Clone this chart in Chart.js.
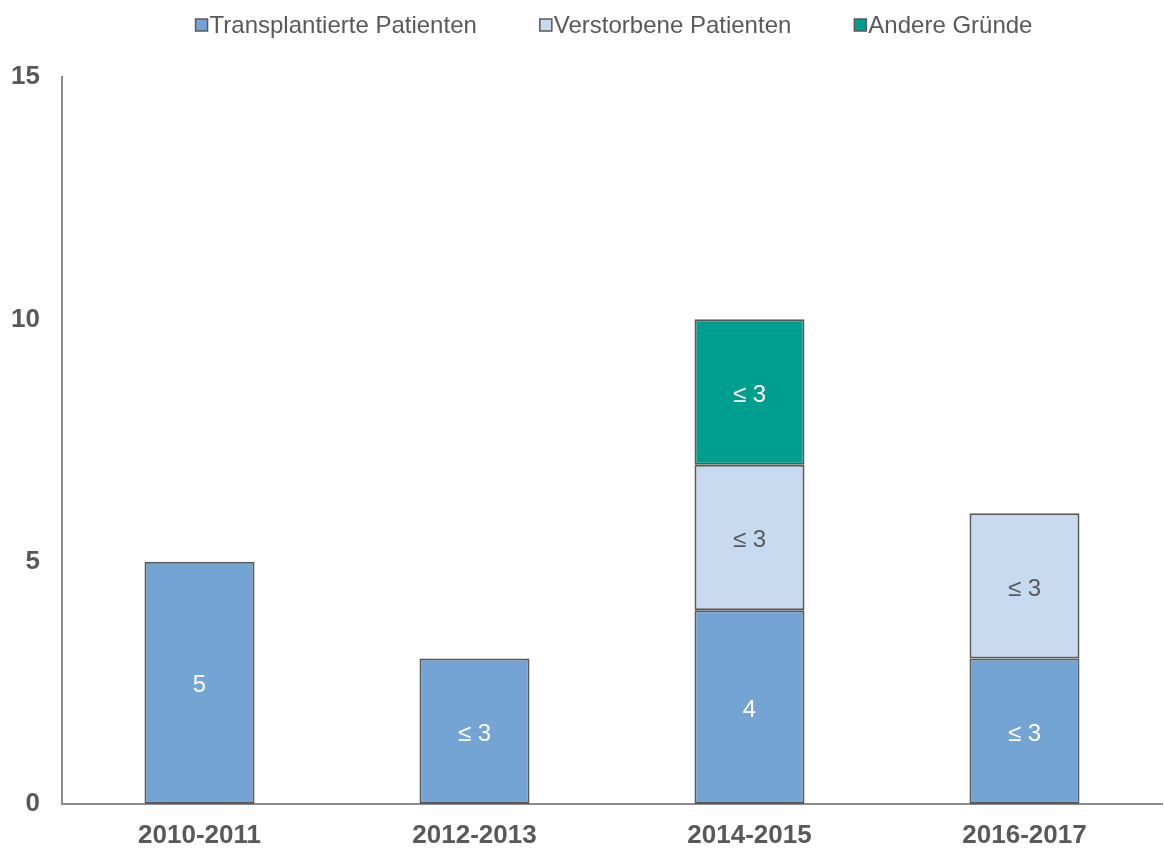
<!DOCTYPE html>
<html lang="de">
  <head>
    <meta charset="UTF-8" />
    <title>Patienten nach Zeitraum</title>
    <script src="https://cdn.jsdelivr.net/npm/chart.js"></script>
    <style>
      html, body { margin: 0; padding: 0; background: #fff; }
      #wrap { width: 1164px; height: 849px; }
    </style>
  </head>
  <body>
    <div id="wrap"><canvas id="patientsChart"></canvas></div>
    <script>
      const periods = ["2010-2011", "2012-2013", "2014-2015", "2016-2017"];
      const transplanted = [5, 3, 4, 3];
      const deceased = [0, 0, 3, 3];
      const otherReasons = [0, 0, 3, 0];
      const transplantedLabels = ["5", "≤ 3", "4", "≤ 3"];
      const deceasedLabels = ["", "", "≤ 3", "≤ 3"];
      const otherLabels = ["", "", "≤ 3", ""];
      const yTicks = [0, 5, 10, 15];

      const textGrey = "#595959";
      const fontFamily = "'Liberation Sans', Arial, sans-serif";

      // draws the value text in the middle of each bar segment
      const segmentLabels = {
        id: "segmentLabels",
        afterDatasetsDraw(chart) {
          const ctx = chart.ctx;
          ctx.save();
          ctx.font = "24px " + fontFamily;
          ctx.textAlign = "center";
          ctx.textBaseline = "middle";
          chart.data.datasets.forEach((ds, i) => {
            const meta = chart.getDatasetMeta(i);
            meta.data.forEach((bar, j) => {
              const txt = ds.segmentText[j];
              if (!txt) return;
              ctx.fillStyle = ds.textColor;
              ctx.fillText(txt, bar.x, (bar.y + bar.base) / 2 + 3);
            });
          });
          ctx.restore();
        },
      };

      // compact legend row at the top, centred over the plot area
      const topLegend = {
        id: "topLegend",
        afterDraw(chart) {
          const ctx = chart.ctx;
          const area = chart.chartArea;
          const box = 12, gapText = 2, gapItem = 63, y = 25;
          ctx.save();
          ctx.font = "24px " + fontFamily;
          ctx.textBaseline = "middle";
          const items = chart.data.datasets.map((ds) => ({
            ds,
            w: box + gapText + ctx.measureText(ds.label).width,
          }));
          const total = items.reduce((s, it) => s + it.w, 0) + gapItem * (items.length - 1);
          let x = (area.left + area.right - total) / 2 + 2;
          items.forEach((it) => {
            ctx.fillStyle = it.ds.backgroundColor;
            ctx.fillRect(x, y - box / 2, box, box);
            ctx.strokeStyle = "#595959";
            ctx.lineWidth = 1.5;
            ctx.strokeRect(x, y - box / 2, box, box);
            ctx.fillStyle = textGrey;
            ctx.fillText(it.ds.label, x + box + gapText, y + 1);
            x += it.w + gapItem;
          });
          ctx.restore();
        },
      };

      new Chart(document.getElementById("patientsChart"), {
        type: "bar",
        data: {
          labels: periods,
          datasets: [
            {
              label: "Transplantierte Patienten",
              data: transplanted,
              segmentText: transplantedLabels,
              textColor: "#ffffff",
              backgroundColor: "#74A4D4",
            },
            {
              label: "Verstorbene Patienten",
              data: deceased,
              segmentText: deceasedLabels,
              textColor: textGrey,
              backgroundColor: "#C8DAF0",
            },
            {
              label: "Andere Gründe",
              data: otherReasons,
              segmentText: otherLabels,
              textColor: "#ffffff",
              backgroundColor: "#009E8F",
            },
          ].map((d) => ({
            ...d,
            borderColor: "#595959",
            borderWidth: 2,
            borderSkipped: false,
            barPercentage: 0.4,
            categoryPercentage: 1.0,
          })),
        },
        options: {
          responsive: true,
          maintainAspectRatio: false,
          animation: false,
          layout: { padding: { left: 8, right: 2, top: 77, bottom: 0 } },
          scales: {
            x: {
              stacked: true,
              grid: { display: false, drawTicks: false },
              border: { color: "#8c8c8c", width: 2 },
              afterFit: (axis) => {
                axis.height = 45;
              },
              ticks: {
                color: textGrey,
                padding: 16,
                font: { family: fontFamily, size: 26, weight: "bold" },
              },
            },
            y: {
              stacked: true,
              min: 0,
              max: 15,
              afterBuildTicks: (axis) => {
                axis.ticks = yTicks.map((v) => ({ value: v }));
              },
              afterFit: (axis) => {
                axis.width = 54;
              },
              grid: { display: false, drawTicks: false },
              border: { color: "#8c8c8c", width: 2 },
              ticks: {
                color: textGrey,
                padding: 22,
                font: { family: fontFamily, size: 26, weight: "bold" },
              },
            },
          },
          plugins: {
            legend: { display: false },
            tooltip: { enabled: false },
          },
        },
        plugins: [segmentLabels, topLegend],
      });
    </script>
  </body>
</html>
